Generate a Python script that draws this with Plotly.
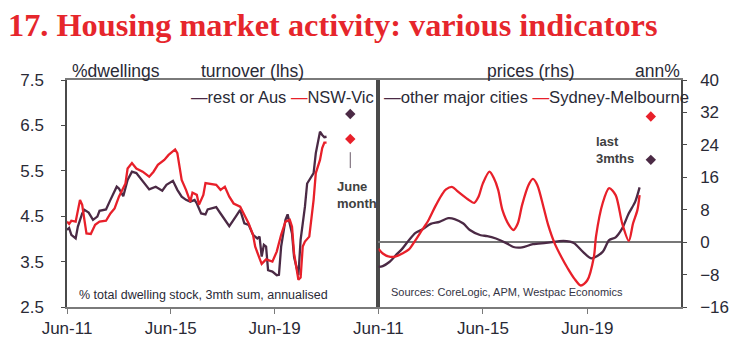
import plotly.graph_objects as go

PURPLE = "#4B2A45"
RED = "#E8202A"
YAXIS = "#4a4a4a"
XAXIS = "#7a7a7a"
TXT = "#2a2a36"
FONT = "Liberation Sans, Arial, sans-serif"

# ---- turnover (lhs), % of dwelling stock ----
rest_dates = ["2011-06", "2011-07", "2011-08", "2011-10", "2011-11", "2012-01", "2012-02", "2012-04",
              "2012-06", "2012-08", "2012-09", "2012-12", "2013-02", "2013-05", "2013-06", "2013-08",
              "2013-10", "2013-12", "2014-02", "2014-05", "2014-08", "2014-11", "2015-02", "2015-04",
              "2015-07", "2015-09", "2015-11", "2016-01", "2016-03", "2016-05", "2016-06", "2016-08",
              "2016-10", "2016-11", "2017-01", "2017-03", "2017-05", "2017-09", "2017-12", "2018-02",
              "2018-04", "2018-06", "2018-08", "2018-10", "2018-11", "2018-12", "2019-01", "2019-02",
              "2019-03", "2019-05", "2019-07", "2019-08", "2019-09", "2019-11", "2019-12", "2020-01",
              "2020-02", "2020-03", "2020-05", "2020-06", "2020-08", "2020-09", "2020-12", "2021-01",
              "2021-03", "2021-04", "2021-05", "2021-06"]
rest_turnover = [4.20, 4.24, 4.09, 4.01, 4.27, 4.56, 4.64, 4.58,
                 4.42, 4.49, 4.62, 4.65, 4.86, 5.15, 5.11, 4.94,
                 5.30, 5.48, 5.45, 5.26, 5.09, 5.15, 5.06, 5.19,
                 5.28, 5.08, 4.93, 4.86, 4.82, 4.86, 4.78, 4.56,
                 4.54, 4.65, 4.67, 4.70, 4.56, 4.28, 4.49, 4.64,
                 4.34, 4.31, 4.09, 4.01, 4.05, 3.61, 3.87, 3.83,
                 3.31, 3.28, 3.20, 3.21, 3.83, 4.42, 4.54, 4.34,
                 4.12, 3.60, 3.20, 3.98, 4.71, 5.22, 5.45, 5.89,
                 6.36, 6.29, 6.24, 6.25]

nsw_dates = ["2011-06", "2011-07", "2011-08", "2011-10", "2011-12", "2012-01", "2012-02", "2012-03",
             "2012-05", "2012-07", "2012-09", "2012-12", "2013-02", "2013-04", "2013-06", "2013-09",
             "2013-10", "2013-12", "2014-02", "2014-05", "2014-08", "2014-10", "2014-12", "2015-03",
             "2015-05", "2015-08", "2015-09", "2015-11", "2016-01", "2016-03", "2016-04", "2016-06",
             "2016-07", "2016-09", "2016-10", "2017-01", "2017-03", "2017-05", "2017-07", "2017-09",
             "2017-11", "2018-02", "2018-04", "2018-06", "2018-08", "2018-09", "2018-11", "2018-12",
             "2019-02", "2019-05", "2019-07", "2019-09", "2019-11", "2020-01", "2020-02", "2020-03",
             "2020-05", "2020-06", "2020-07", "2020-08", "2020-10", "2020-12", "2021-01", "2021-03",
             "2021-04", "2021-05", "2021-06"]
nsw_turnover = [4.38, 4.33, 4.40, 4.38, 4.86, 4.75, 4.42, 4.12,
                4.11, 4.31, 4.38, 4.40, 4.56, 4.67, 4.93, 5.22,
                5.55, 5.67, 5.55, 5.48, 5.37, 5.48, 5.63, 5.74,
                5.85, 5.97, 5.89, 5.30, 5.08, 4.82, 5.02, 4.97,
                4.75, 4.97, 5.23, 5.21, 5.19, 5.08, 5.15, 4.93,
                4.78, 4.71, 4.53, 4.34, 4.09, 3.83, 3.57, 3.45,
                3.55, 3.50, 3.72, 4.09, 4.38, 4.42, 4.27, 3.68,
                3.10, 3.15, 3.83, 3.94, 4.05, 4.86, 5.45, 5.74,
                6.00, 6.12, 6.12]

# June month markers (lhs)
june_date = ["2022-05-01"]
june_rest = [6.75]
june_nsw = [6.20]

# ---- prices (rhs), annual % ----
other_dates = ["2011-06", "2011-08", "2011-11", "2012-02", "2012-05", "2012-08", "2012-11", "2013-02",
               "2013-06", "2013-10", "2014-02", "2014-05", "2014-09", "2014-12", "2015-05", "2015-08",
               "2015-12", "2016-05", "2016-08", "2016-12", "2017-05", "2017-11", "2018-07", "2018-10",
               "2018-12", "2019-04", "2019-08", "2020-01", "2020-04", "2020-07", "2020-10", "2021-01",
               "2021-04", "2021-06"]
other_prices = [-6.1, -5.9, -4.9, -3.2, -1.6, 0.5, 2.3, 3.1,
                4.5, 5.0, 5.9, 5.7, 4.6, 3.0, 1.7, 1.5,
                0.9, -0.3, -1.2, -1.3, -0.5, -0.2, 0.3, 0.1,
                -0.3, -2.4, -4.0, -2.4, 0.5, 1.2, 3.4, 7.1,
                10.0, 13.5]

sydmel_dates = ["2011-06", "2011-08", "2011-11", "2012-02", "2012-05", "2012-08", "2012-11", "2013-02",
                "2013-05", "2013-08", "2013-11", "2014-01", "2014-04", "2014-06", "2014-09", "2014-11",
                "2015-02", "2015-04", "2015-06", "2015-09", "2015-11", "2016-01", "2016-03", "2016-06",
                "2016-08", "2016-10", "2016-12", "2017-03", "2017-05", "2017-07", "2017-10", "2017-12",
                "2018-03", "2018-06", "2018-09", "2018-12", "2019-03", "2019-06", "2019-09", "2019-10",
                "2020-01", "2020-04", "2020-07", "2020-10", "2021-01", "2021-03", "2021-05", "2021-06"]
sydmel_prices = [-1.6, -2.8, -3.6, -3.5, -2.8, -1.8, 0.5, 3.0,
                 5.4, 8.7, 11.6, 13.0, 13.6, 12.7, 11.4, 10.6,
                 9.7, 11.2, 14.5, 17.4, 15.8, 12.9, 7.9, 4.2,
                 3.0, 4.6, 9.2, 14.1, 15.6, 14.1, 8.3, 4.2,
                 -0.3, -3.6, -6.5, -9.0, -10.7, -9.4, -3.6, 1.5,
                 9.6, 13.3, 11.6, 4.6, 0.3, 4.6, 7.9, 11.6]

# last 3 months markers (rhs)
last3_date = ["2021-11-05"]
last3_other = [20.3]
last3_sydmel = [31.0]

lhs_ticks = [2.5, 3.5, 4.5, 5.5, 6.5, 7.5]
rhs_ticks = [-16, -8, 0, 8, 16, 24, 32, 40]
x_tickvals = ["2011-06-01", "2015-06-01", "2019-06-01"]
x_ticktext = ["Jun-11", "Jun-15", "Jun-19"]

# page body has an 8px default margin; figure is sized to fit the 741x357 window
OFF = 8
split = (379 - 61) / 627.0

fig = go.Figure()
fig.add_trace(go.Scatter(x=rest_dates, y=rest_turnover, mode="lines", name="rest or Aus",
                         line=dict(color=PURPLE, width=2.3), xaxis="x", yaxis="y", showlegend=False))
fig.add_trace(go.Scatter(x=nsw_dates, y=nsw_turnover, mode="lines", name="NSW-Vic",
                         line=dict(color=RED, width=2.3), xaxis="x", yaxis="y", showlegend=False))
fig.add_trace(go.Scatter(x=june_date, y=june_rest, mode="markers", marker=dict(symbol="diamond", size=8, color=PURPLE),
                         xaxis="x", yaxis="y", showlegend=False))
fig.add_trace(go.Scatter(x=june_date, y=june_nsw, mode="markers", marker=dict(symbol="diamond", size=8, color=RED),
                         xaxis="x", yaxis="y", showlegend=False))
fig.add_trace(go.Scatter(x=other_dates, y=other_prices, mode="lines", name="other major cities",
                         line=dict(color=PURPLE, width=2.3, shape="spline", smoothing=0.8),
                         xaxis="x2", yaxis="y2", showlegend=False))
fig.add_trace(go.Scatter(x=sydmel_dates, y=sydmel_prices, mode="lines", name="Sydney-Melbourne",
                         line=dict(color=RED, width=2.3, shape="spline", smoothing=0.8),
                         xaxis="x2", yaxis="y2", showlegend=False))
fig.add_trace(go.Scatter(x=last3_date, y=last3_sydmel, mode="markers", marker=dict(symbol="diamond", size=8, color=RED),
                         xaxis="x2", yaxis="y2", showlegend=False))
fig.add_trace(go.Scatter(x=last3_date, y=last3_other, mode="markers", marker=dict(symbol="diamond", size=8, color=PURPLE),
                         xaxis="x2", yaxis="y2", showlegend=False))

tickfont = dict(family=FONT, size=17, color=TXT)
xcommon = dict(showgrid=False, showline=True, linecolor=XAXIS, linewidth=1.5, mirror=True,
               ticks="outside", tickcolor=XAXIS, ticklen=5, tickfont=tickfont, type="date",
               tickvals=x_tickvals, ticktext=x_ticktext)
ycommon = dict(showgrid=False, showline=True, linecolor=YAXIS, linewidth=1.5, mirror=True,
               ticks="outside", tickcolor=YAXIS, ticklen=4, tickfont=tickfont)

fig.update_layout(
    width=741 - OFF, height=357 - OFF,
    margin=dict(l=61 - OFF, r=53, t=80 - OFF, b=50),
    paper_bgcolor="white", plot_bgcolor="white",
    title=dict(text="17. Housing market activity: various indicators", x=0, xanchor="left",
               y=1 - 17 / 349, yanchor="middle", pad=dict(l=0, t=0, b=0, r=0),
               font=dict(family="Liberation Serif, Times New Roman, serif", size=32.3, color="#E6262C", weight="bold")),
    xaxis=dict(domain=[0, split], anchor="y", range=["2011-06-01", "2023-06-01"], **xcommon),
    yaxis=dict(domain=[0, 1], anchor="x", range=[2.5, 7.5], tickvals=lhs_ticks, tickformat=".1f",
               ticklabelstandoff=14, zeroline=False, **ycommon),
    xaxis2=dict(domain=[split, 1], anchor="y2", range=["2011-06-01", "2023-01-01"], **xcommon),
    yaxis2=dict(domain=[0, 1], anchor="x2", side="right", range=[-16, 40], tickvals=rhs_ticks,
                ticklabelstandoff=10, zeroline=True, zerolinecolor="#777777", zerolinewidth=1.5,
                **ycommon),
    showlegend=False,
)

def px_x(p):
    return (p - 61) / 627.0

def px_y(p):
    return (307 - p) / 227.0

def note(text, x, y, size=17, anchor="left", bold=False, color=TXT):
    fig.add_annotation(text=text, x=px_x(x), y=px_y(y), xref="paper", yref="paper",
                       xanchor=anchor, yanchor="middle", showarrow=False, align="left",
                       font=dict(family=FONT, size=size, color=color, weight="bold" if bold else "normal"))

note("%dwellings", 64, 71, size=17.5)
note("turnover (lhs)", 196, 71, size=17.5)
note("prices (rhs)", 488, 71, size=17.5)
note("ann%", 639, 71, size=17.5)
note(f"<span style='color:{PURPLE}'>—</span>rest or Aus <span style='color:{RED}'>—</span>NSW-Vic", 377, 97,
     size=16.5, anchor="right")
note(f"<span style='color:{PURPLE}'>—</span>other major cities <span style='color:{RED}'>—</span>Sydney-Melbourne",
     383, 97, size=16.7, anchor="left")
note("June<br>month", 335, 195, size=13, bold=True, color="#404040")
note("last<br>3mths", 599, 150, size=13, bold=True, color="#404040")
note("% total dwelling stock, 3mth sum, annualised", 71, 295, size=12.5)
note("Sources: CoreLogic, APM, Westpac Economics", 390, 292, size=11, color="#333344")

fig.add_shape(type="line", xref="x", yref="y", x0=june_date[0], x1=june_date[0], y0=5.56, y1=5.91,
              line=dict(color="#6a5a68", width=1))

fig.write_html("out.html")
